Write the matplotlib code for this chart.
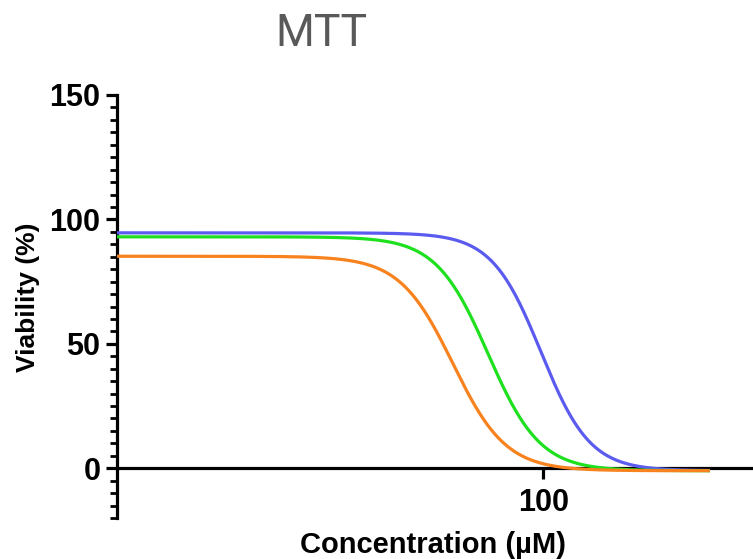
import numpy as np
import matplotlib
matplotlib.use("Agg")
import matplotlib.pyplot as plt
from matplotlib.ticker import FixedLocator, NullLocator, FixedFormatter

# Fitted 4-parameter logistic curves
series = ["blue", "green", "orange"]
colors = ["#5b5bf0", "#1fe01f", "#f7821e"]
tops = [94.6, 93.0, 85.2]
bottoms = [-1.0, -1.0, -1.0]
ic50 = [98.9, 78.5, 67.3]
hill = [9.3, 8.8, 8.6]
x_start = 15.5
x_end = 207.0

yticks = [0, 50, 100, 150]
xticks = [100]
xtick_labels = ["100"]

fig = plt.figure(figsize=(7.53, 5.59), dpi=100)
ax = fig.add_axes([117/753, 41/559, 636/753, 423/559])

xs = np.logspace(np.log10(x_start), np.log10(x_end), 600)
for c, t, b, ic, h in zip(colors, tops, bottoms, ic50, hill):
    y = b + (t - b) / (1 + 10 ** ((np.log10(xs) - np.log10(ic)) * h))
    ax.plot(xs, y, color=c, lw=2.3, solid_capstyle='butt', zorder=3)

ax.set_xscale('log')
ax.set_xlim(15.5, 250)
ax.set_ylim(-20, 150)

for s in ['top', 'right']:
    ax.spines[s].set_visible(False)
ax.spines['bottom'].set_position(('data', 0))
ax.spines['left'].set_linewidth(2.3)
ax.spines['bottom'].set_linewidth(2.3)

ax.yaxis.set_major_locator(FixedLocator(yticks))
ax.yaxis.set_minor_locator(FixedLocator([v for v in range(-20, 151, 5) if v not in yticks]))
ax.xaxis.set_major_locator(FixedLocator(xticks))
ax.xaxis.set_major_formatter(FixedFormatter(xtick_labels))
ax.xaxis.set_minor_locator(NullLocator())

ax.tick_params(axis='y', which='major', length=8, width=2.3, pad=4)
ax.tick_params(axis='y', which='minor', length=5, width=2.0)
ax.tick_params(axis='x', which='major', length=8, width=2.3, pad=6)
for lab in ax.get_yticklabels() + ax.get_xticklabels():
    lab.set_fontfamily('Liberation Sans')
    lab.set_fontweight('bold')
    lab.set_fontsize(22)

fig.text(28/753, 1 - 297/559, "Viability (%)", rotation=90, ha='center', va='center',
         fontfamily='Liberation Sans', fontweight='bold', fontsize=19)
fig.text(433/753, 1 - 545/559, "Concentration (µM)", ha='center', va='center',
         fontfamily='Liberation Sans', fontweight='bold', fontsize=21)
fig.text(321/753, 1 - 34/559, "MTT", ha='center', va='center',
         fontfamily='Roboto', fontsize=32, color='#595959')

fig.savefig("out.png", dpi=100)
